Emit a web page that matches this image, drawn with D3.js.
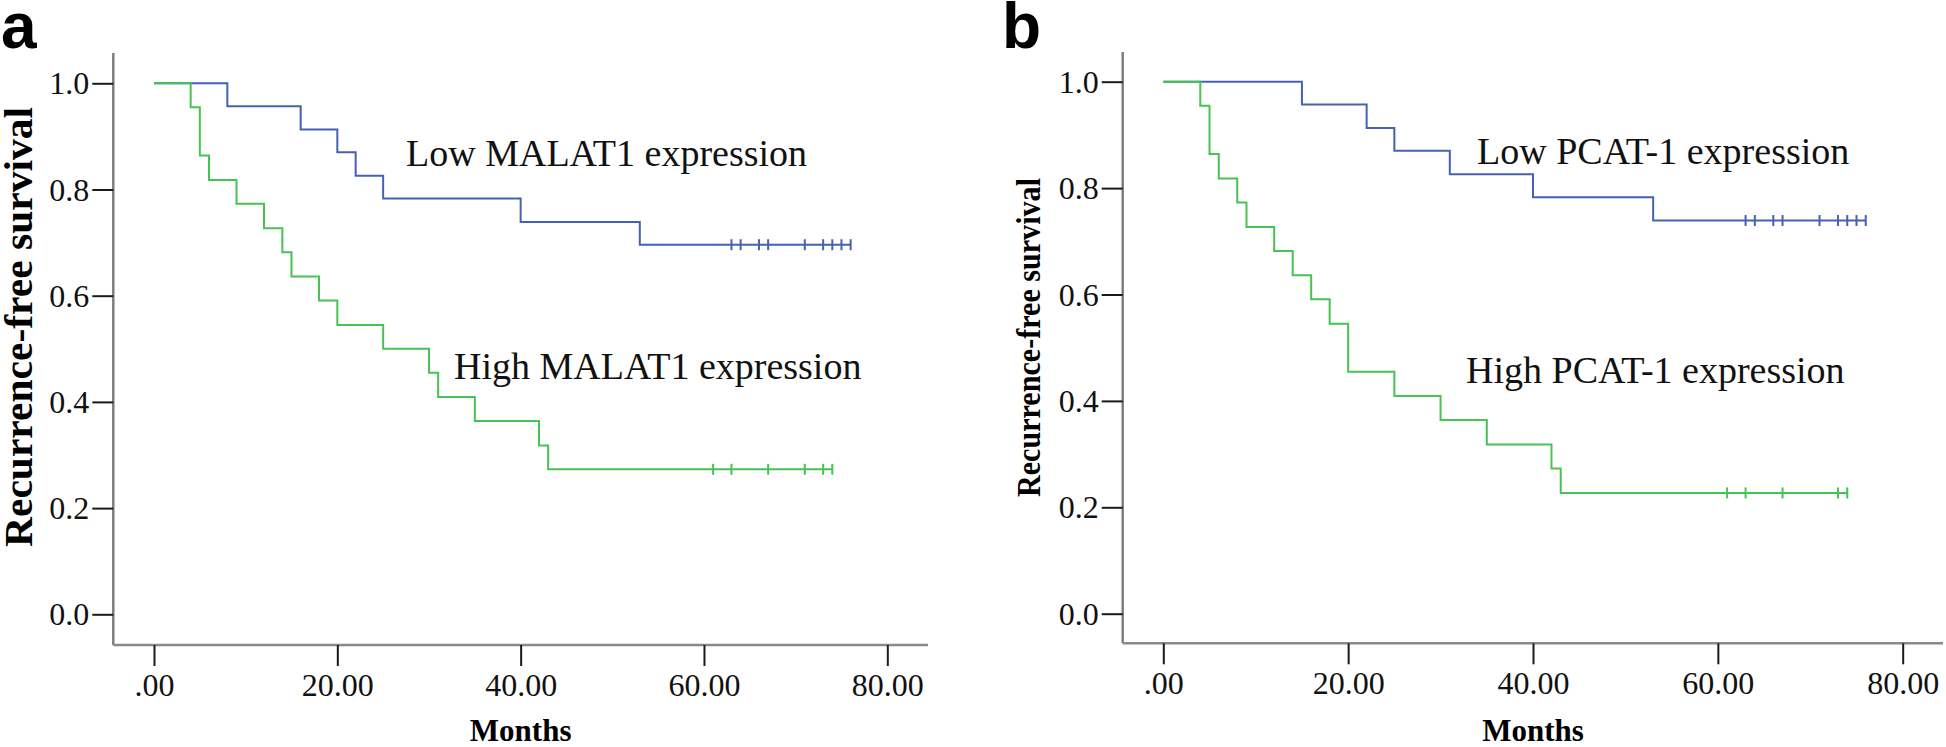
<!DOCTYPE html>
<html>
<head>
<meta charset="utf-8">
<script src="https://cdn.jsdelivr.net/npm/d3@7"></script>
<style>
  html, body { margin: 0; padding: 0; background: #fff; }
  svg { display: block; }
</style>
</head>
<body>
<svg id="chart" width="1946" height="747"></svg>
<script>
// ---------- data ----------
const xTickValues = [0, 20, 40, 60, 80];
const xTickLabels = [".00", "20.00", "40.00", "60.00", "80.00"];
const yTickValues = [0, 0.2, 0.4, 0.6, 0.8, 1.0];
const yTickLabels = ["0.0", "0.2", "0.4", "0.6", "0.8", "1.0"];

// Panel a: MALAT1
const aLowTimes = [0, 8, 16, 20, 22, 25, 40, 53, 76];
const aLowSurv  = [1.000, 0.957, 0.913, 0.870, 0.826, 0.783, 0.739, 0.696, 0.696];
const aLowCensor = [63, 64, 66, 67, 71, 73, 74, 75, 76];
const aHighTimes = [0, 4, 5, 6, 9, 12, 14, 15, 18, 20, 25, 30, 31, 35, 42, 43, 74];
const aHighSurv  = [1.000, 0.955, 0.864, 0.818, 0.773, 0.727, 0.682, 0.636, 0.591, 0.545, 0.500, 0.455, 0.409, 0.364, 0.318, 0.273, 0.273];
const aHighCensor = [61, 63, 67, 71, 73, 74];

// Panel b: PCAT-1
const bLowTimes = [0, 15, 22, 25, 31, 40, 53, 76];
const bLowSurv  = [1.000, 0.957, 0.913, 0.870, 0.826, 0.783, 0.739, 0.739];
const bLowCensor = [63, 64, 66, 67, 71, 73, 74, 75, 76];
const bHighTimes = [0, 4, 5, 6, 8, 9, 12, 14, 16, 18, 20, 25, 30, 35, 42, 43, 74];
const bHighSurv  = [1.000, 0.955, 0.864, 0.818, 0.773, 0.727, 0.682, 0.636, 0.591, 0.545, 0.455, 0.409, 0.364, 0.318, 0.273, 0.227, 0.227];
const bHighCensor = [61, 63, 67, 73, 74];

const yTitle = "Recurrence-free survival";
const xTitle = "Months";

// ---------- drawing ----------
const svg = d3.select("#chart");
const BLUE = "#4461b5";
const GREEN = "#46c353";
const SERIF = "Liberation Serif";

function drawPanel(p) {
  const g = svg.append("g");
  const x = d3.scaleLinear().domain([0, 80]).range([p.x0, p.x80]);
  const y = d3.scaleLinear().domain([0, 1]).range([p.y0, p.y1]);

  // panel letter
  g.append("text").attr("x", p.letterX).attr("y", 48)
    .style("font-family", "Liberation Sans")
    .attr("font-weight", "bold").attr("font-size", 64)
    .text(p.letter);

  // axis lines (gray)
  g.append("line").attr("x1", p.axisX).attr("x2", p.axisX)
    .attr("y1", p.axisTop).attr("y2", p.axisY)
    .attr("stroke", "#7a7a7a").attr("stroke-width", 2.4);
  g.append("line").attr("x1", p.axisX).attr("x2", p.axisRight)
    .attr("y1", p.axisY).attr("y2", p.axisY)
    .attr("stroke", "#8a8a8a").attr("stroke-width", 2.4);

  // y axis
  const yAxis = d3.axisLeft(y).tickValues(yTickValues)
    .tickFormat((d, i) => yTickLabels[i]).tickSize(21).tickPadding(3);
  const ya = g.append("g").attr("transform", `translate(${p.axisX},0)`).call(yAxis);
  ya.select(".domain").remove();
  ya.selectAll(".tick line").attr("stroke", "#1a1a1a").attr("stroke-width", 2);
  ya.selectAll(".tick text").style("font-family", SERIF).attr("font-size", 32)
    .attr("fill", "#111").attr("dy", "0.33em");

  // x axis
  const xAxis = d3.axisBottom(x).tickValues(xTickValues)
    .tickFormat((d, i) => xTickLabels[i]).tickSize(21).tickPadding(7);
  const xa = g.append("g").attr("transform", `translate(0,${p.axisY})`).call(xAxis);
  xa.select(".domain").remove();
  xa.selectAll(".tick line").attr("stroke", "#1a1a1a").attr("stroke-width", 2);
  xa.selectAll(".tick text").style("font-family", SERIF).attr("font-size", 32)
    .attr("fill", "#111");

  // axis titles
  g.append("text")
    .attr("transform", `translate(${p.yTitleX},${p.yTitleY}) rotate(-90)`)
    .attr("text-anchor", "middle")
    .style("font-family", SERIF).attr("font-weight", "bold")
    .attr("font-size", p.yTitleSize)
    .attr("textLength", p.yTitleLen).attr("lengthAdjust", "spacingAndGlyphs")
    .text(yTitle);
  g.append("text")
    .attr("x", x(40)).attr("y", 741)
    .attr("text-anchor", "middle")
    .style("font-family", SERIF).attr("font-weight", "bold").attr("font-size", 31)
    .text(xTitle);

  // curves
  const line = d3.line().x(d => x(d[0])).y(d => y(d[1])).curve(d3.curveStepAfter);
  p.series.forEach(s => {
    const pts = s.times.map((t, i) => [t, s.surv[i]]);
    g.append("path").datum(pts).attr("d", line)
      .attr("fill", "none").attr("stroke", s.color).attr("stroke-width", 2);
    const last = s.surv[s.surv.length - 1];
    g.selectAll(null).data(s.censor).enter().append("line")
      .attr("x1", d => x(d)).attr("x2", d => x(d))
      .attr("y1", y(last) - 5.5).attr("y2", y(last) + 5.5)
      .attr("stroke", s.color).attr("stroke-width", 2);
    g.append("text")
      .attr("x", s.labelX).attr("y", s.labelY)
      .style("font-family", SERIF).attr("font-size", 38).attr("fill", "#111")
      .text(s.label);
  });
}

drawPanel({
  letter: "a", letterX: 1,
  x0: 154, x80: 887.3, y0: 614.3, y1: 83.3,
  axisX: 113.3, axisTop: 53, axisY: 645, axisRight: 928,
  yTitleX: 32, yTitleY: 327, yTitleSize: 41, yTitleLen: 440,
  series: [
    { times: aLowTimes, surv: aLowSurv, censor: aLowCensor, color: BLUE,
      label: "Low MALAT1 expression", labelX: 406, labelY: 166 },
    { times: aHighTimes, surv: aHighSurv, censor: aHighCensor, color: GREEN,
      label: "High MALAT1 expression", labelX: 454, labelY: 379 }
  ]
});

drawPanel({
  letter: "b", letterX: 1002,
  x0: 1163.3, x80: 1902.7, y0: 613.7, y1: 81.7,
  axisX: 1122.7, axisTop: 52, axisY: 643.3, axisRight: 1943,
  yTitleX: 1040, yTitleY: 337.5, yTitleSize: 34, yTitleLen: 319,
  series: [
    { times: bLowTimes, surv: bLowSurv, censor: bLowCensor, color: BLUE,
      label: "Low PCAT-1 expression", labelX: 1477, labelY: 164 },
    { times: bHighTimes, surv: bHighSurv, censor: bHighCensor, color: GREEN,
      label: "High PCAT-1 expression", labelX: 1466, labelY: 383 }
  ]
});
</script>
</body>
</html>
